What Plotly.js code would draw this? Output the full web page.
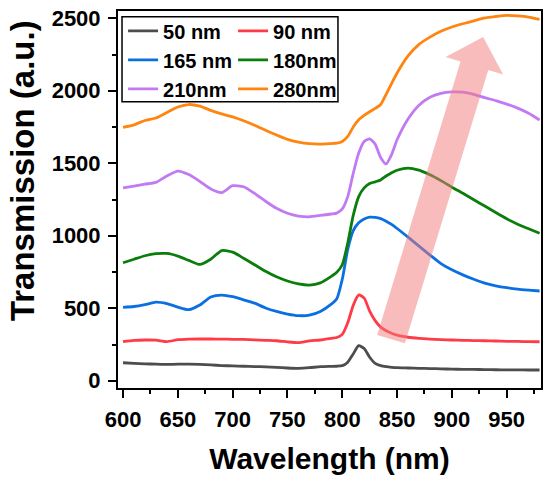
<!DOCTYPE html>
<html>
<head>
<meta charset="utf-8">
<script src="https://cdn.plot.ly/plotly-3.0.1.min.js"></script>
<style>html,body{margin:0;padding:0;background:#fff;}#chart{width:550px;height:486px;}</style>
</head>
<body>
<div id="chart"></div>
<script>
// Wavelength grid (nm)
const wavelength = [600,610,620,630,640,650,660,670,680,690,700,710,720,730,740,750,760,770,780,790,795,800,805,810,815,820,825,830,835,840,845,850,860,870,880,890,900,910,920,930,940,950,960,970,980];

// Transmission (a.u.) per sample thickness
const t50  = [124,120,117,114,113,114,115,113,109,105,102,100,98,96,92,88,86,90,97,99,100,104,128,185,242,222,162,120,104,97,93,90,88,86,84,82,80,79,78,77,76,75,75,74,74];
const t90  = [270,278,281,280,270,283,287,288,288,287,286,285,282,279,276,268,263,275,281,292,298,320,400,520,592,570,480,415,370,345,328,314,300,292,287,284,281,279,277,276,274,272,271,270,269];
const t165 = [506,512,525,542,532,508,490,522,578,591,580,558,535,502,478,460,449,452,478,528,565,700,905,1035,1090,1115,1128,1126,1118,1100,1078,1050,990,928,867,808,765,730,700,673,655,642,632,625,619];
const t180 = [814,838,862,876,878,860,830,802,838,898,887,845,800,755,717,688,668,660,675,720,748,800,950,1140,1270,1330,1360,1372,1385,1412,1435,1452,1467,1452,1420,1380,1335,1293,1248,1205,1160,1117,1080,1048,1017];
const t210 = [1331,1343,1356,1368,1412,1446,1422,1375,1322,1298,1345,1338,1292,1238,1189,1155,1136,1131,1140,1150,1156,1185,1270,1430,1570,1650,1668,1632,1540,1495,1560,1662,1805,1900,1955,1982,1992,1990,1975,1952,1932,1908,1880,1845,1798];
const t280 = [1748,1765,1795,1812,1850,1888,1905,1894,1865,1840,1820,1793,1762,1728,1695,1665,1646,1635,1632,1636,1638,1650,1685,1750,1800,1830,1855,1878,1905,1975,2050,2122,2240,2320,2370,2410,2440,2462,2482,2502,2512,2520,2516,2508,2492];

const seriesNames = ['50 nm','90 nm','165 nm','180nm','210nm','280nm'];
const seriesData  = [t50, t90, t165, t180, t210, t280];
const seriesColors = ['#4d4d4d','#ff3b47','#0a6fe0','#0a7d0a','#c27af2','#ff8410'];
const legendOf = ['legend','legend2','legend','legend2','legend','legend2'];

// Trend arrow, data coordinates: tail centre and tip
const arrowTail = {x: 844.5, y: 287};
const arrowTip  = {x: 928.5, y: 2370};

const FONT = 'Liberation Sans, Arial, Helvetica, sans-serif';
const W = 550, H = 486, M = {l: 118, r: 9, t: 11, b: 98};
const XR = [595.4, 981.3], YR = [-50, 2550];

// Build arrow polygon: geometry done in screen pixels, converted back to data units
function arrowPath(tail, tip, shaftHalf, headHalf, headLen) {
  const pw = W - M.l - M.r, ph = H - M.t - M.b;
  const sx = pw / (XR[1] - XR[0]), sy = ph / (YR[1] - YR[0]);
  const toPx = p => [(p.x - XR[0]) * sx, -(p.y - YR[0]) * sy];
  const toD = q => [XR[0] + q[0] / sx, YR[0] - q[1] / sy];
  const a = toPx(tail), b = toPx(tip);
  const dx = b[0] - a[0], dy = b[1] - a[1], L = Math.hypot(dx, dy);
  const d = [dx / L, dy / L], n = [-d[1], d[0]];
  const base = [b[0] - d[0] * headLen, b[1] - d[1] * headLen];
  const pts = [
    [a[0] + n[0] * shaftHalf, a[1] + n[1] * shaftHalf],
    [base[0] + n[0] * shaftHalf, base[1] + n[1] * shaftHalf],
    [base[0] + n[0] * headHalf, base[1] + n[1] * headHalf],
    b,
    [base[0] - n[0] * headHalf, base[1] - n[1] * headHalf],
    [base[0] - n[0] * shaftHalf, base[1] - n[1] * shaftHalf],
    [a[0] - n[0] * shaftHalf, a[1] - n[1] * shaftHalf]
  ].map(toD);
  return 'M' + pts.map(p => p[0].toFixed(2) + ',' + p[1].toFixed(2)).join(' L') + ' Z';
}

const traces = seriesNames.map((n, i) => ({
  x: wavelength, y: seriesData[i], name: n, type: 'scatter', mode: 'lines',
  line: {color: seriesColors[i], width: 2.8, shape: 'spline', smoothing: 0.6},
  legend: legendOf[i]
}));

const legendCommon = {
  bgcolor: 'rgba(0,0,0,0)', borderwidth: 0, xanchor: 'left', yanchor: 'top',
  font: {family: FONT, size: 20, color: '#000', weight: 'bold'},
  tracegroupgap: 0
};

const layout = {
  width: W, height: H, margin: M,
  paper_bgcolor: '#fff', plot_bgcolor: '#fff',
  showlegend: true,
  font: {family: FONT, color: '#000'},
  xaxis: {
    range: XR, tick0: 600, dtick: 50,
    ticks: 'outside', ticklen: 8, tickwidth: 2, tickcolor: '#000', ticklabelstandoff: 3,
    minor: {dtick: 25, ticks: 'outside', ticklen: 4, tickwidth: 2, tickcolor: '#000'},
    showline: true, linewidth: 2, linecolor: '#000', mirror: true,
    showgrid: false, zeroline: false,
    tickfont: {family: FONT, size: 22, color: '#000', weight: 'bold'},
    title: {text: 'Wavelength (nm)', standoff: 17, font: {family: FONT, size: 30, color: '#000', weight: 'bold'}}
  },
  yaxis: {
    range: YR, tick0: 0, dtick: 500,
    ticks: 'outside', ticklen: 8, tickwidth: 2, tickcolor: '#000', ticklabelstandoff: 3,
    minor: {dtick: 250, ticks: 'outside', ticklen: 4, tickwidth: 2, tickcolor: '#000'},
    showline: true, linewidth: 2, linecolor: '#000', mirror: true,
    showgrid: false, zeroline: false,
    tickfont: {family: FONT, size: 22, color: '#000', weight: 'bold'}
  },
  legend: Object.assign({}, legendCommon, {x: 0.012, y: 0.999}),
  legend2: Object.assign({}, legendCommon, {x: 0.272, y: 0.999}),
  shapes: [
    {
      type: 'rect', xref: 'paper', yref: 'paper',
      x0: 0.0095, x1: 0.52, y0: 0.759, y1: 0.985,
      line: {color: '#000', width: 1.5}, fillcolor: 'rgba(0,0,0,0)'
    },
    {
      type: 'path', xref: 'x', yref: 'y', layer: 'above',
      path: arrowPath(arrowTail, arrowTip, 14.5, 30, 30),
      fillcolor: 'rgba(244,122,122,0.5)', line: {width: 0}
    }
  ],
  annotations: [
    {
      text: 'Transmission (a.u.)', textangle: -90, xref: 'paper', yref: 'paper',
      x: -0.227, y: 0.578, xanchor: 'center', yanchor: 'middle', showarrow: false,
      font: {family: FONT, size: 33, color: '#000', weight: 'bold'}
    }
  ]
};

Plotly.newPlot('chart', traces, layout, {displayModeBar: false, responsive: false});
</script>
</body>
</html>
